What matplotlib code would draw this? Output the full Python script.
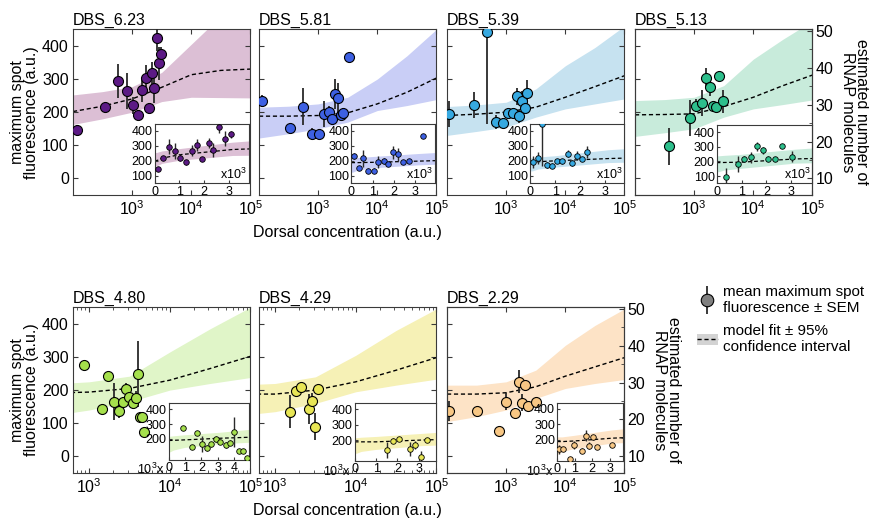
import numpy as np
import matplotlib
matplotlib.use("Agg")
import matplotlib.pyplot as plt
from matplotlib.lines import Line2D
from matplotlib.patches import Patch
from matplotlib.ticker import AutoMinorLocator

plt.rcParams['font.family'] = ['Liberation Sans', 'DejaVu Sans']
plt.rcParams['mathtext.fontset'] = 'custom'
plt.rcParams['mathtext.rm'] = 'Liberation Sans'
plt.rcParams['mathtext.it'] = 'Liberation Sans:italic'
plt.rcParams['mathtext.bf'] = 'Liberation Sans:bold'

# ---- data ----
names = ['DBS_6.23', 'DBS_5.81', 'DBS_5.39', 'DBS_5.13', 'DBS_4.80', 'DBS_4.29', 'DBS_2.29']
dot_colors = ['#5c1a85', '#3d60e3', '#36a9e1', '#2dbf8c', '#a5e04c', '#e8e655', '#f8c784']
band_colors = ['#dcbfd5', '#c9cef6', '#c6e2f0', '#c8ebdb', '#e0f5c8', '#f6f1b6', '#fde3c6']

x_623 = [117, 347, 575, 805, 1040, 1260, 1490, 1710, 1920, 2180, 2360, 2610, 2860, 3090]
y_623 = [147, 217, 294, 264, 221, 190, 267, 303, 212, 317, 272, 424, 347, 375]
e_623 = [12, 12, 50, 55, 25, 15, 35, 40, 15, 35, 45, 40, 50, 22]

x_581 = [113, 340, 565, 780, 1040, 1260, 1510, 1720, 1960, 2200, 2410, 2680, 3340]
y_581 = [233, 152, 217, 135, 135, 195, 200, 180, 255, 242, 193, 199, 365]
e_581 = [18, 8, 55, 18, 15, 40, 20, 15, 45, 45, 15, 15, 0]

x_539 = [108, 287, 479, 683, 876, 1054, 1284, 1503, 1670, 1880, 2090, 2290]
y_539 = [195, 221, 441, 170, 168, 198, 197, 248, 188, 233, 212, 258]
e_539 = [40, 40, 276, 20, 15, 15, 15, 25, 20, 30, 15, 40]

x_513 = [373, 858, 1094, 1360, 1606, 1849, 2074, 2356, 2610, 3043]
y_513 = [97, 183, 220, 227, 303, 275, 219, 215, 308, 233]
e_513 = [55, 55, 20, 40, 30, 25, 15, 15, 8, 35]

x_480 = [866, 1440, 1728, 2054, 2327, 2610, 2873, 3162, 3483, 3758, 3981, 4300, 4550, 4780]
y_480 = [275, 143, 243, 165, 137, 163, 202, 180, 162, 176, 248, 120, 118, 75]
e_480 = [0, 0, 0, 55, 20, 15, 20, 15, 20, 20, 100, 5, 5, 0]

x_429 = [1525, 1795, 2073, 2610, 2847, 3130, 3415]
y_429 = [135, 196, 208, 142, 167, 90, 202]
e_429 = [50, 15, 0, 45, 25, 40, 5]

x_229 = [109, 327, 764, 986, 1413, 1629, 1831, 2080, 2307, 3140]
y_229 = [138, 138, 77, 165, 130, 225, 162, 215, 153, 164]
e_229 = [30, 0, 0, 25, 15, 35, 25, 15, 0, 0]

# model fit (dashed) and 95% band, read at half-decade steps
fit_x = [100, 316, 1000, 3162, 10000, 31623, 100000]
mid_623 = [202, 218, 240, 275, 313, 326, 330]
lo_623 = [163, 180, 200, 232, 245, 244, 243]
hi_623 = [252, 262, 277, 320, 405, 490, 540]
mid_581 = [188, 188, 190, 198, 225, 260, 303]
lo_581 = [122, 135, 150, 170, 205, 220, 238]
hi_581 = [215, 218, 225, 245, 300, 370, 450]
mid_539 = [190, 194, 200, 215, 245, 277, 310]
lo_539 = [130, 142, 155, 185, 210, 225, 240]
hi_539 = [217, 222, 230, 270, 340, 395, 460]
mid_513 = [192, 193, 195, 217, 245, 280, 312]
lo_513 = [127, 138, 150, 185, 210, 223, 237]
hi_513 = [235, 238, 245, 280, 360, 420, 475]
mid_480 = [190, 191, 194, 205, 230, 265, 302]
lo_480 = [110, 122, 140, 165, 200, 220, 238]
hi_480 = [215, 218, 225, 242, 315, 385, 450]
mid_429 = [188, 188, 188, 200, 225, 260, 298]
lo_429 = [110, 122, 135, 160, 195, 215, 233]
hi_429 = [212, 215, 220, 240, 305, 380, 445]
mid_229 = [188, 188, 192, 210, 242, 270, 298]
lo_229 = [105, 120, 140, 175, 205, 220, 232]
hi_229 = [215, 215, 225, 260, 335, 395, 445]

points = [(x_623, y_623, e_623), (x_581, y_581, e_581), (x_539, y_539, e_539),
          (x_513, y_513, e_513), (x_480, y_480, e_480), (x_429, y_429, e_429),
          (x_229, y_229, e_229)]
fits = [(mid_623, lo_623, hi_623), (mid_581, lo_581, hi_581), (mid_539, lo_539, hi_539),
        (mid_513, lo_513, hi_513), (mid_480, lo_480, hi_480), (mid_429, lo_429, hi_429),
        (mid_229, lo_229, hi_229)]

# layout
fig = plt.figure(figsize=(8.7, 5.23), dpi=100)
lefts = [0.0839, 0.2977, 0.5138, 0.7299]
bottoms = [0.627, 0.0956]
W, H = 0.2040, 0.317
xlims = [(100, 1e5)] * 4 + [(631, 1e5), (631, 1e5), (100, 1e5)]
inset_pos = [[0.46, 0.07, 0.53, 0.36], [0.52, 0.07, 0.47, 0.36],
             [0.47, 0.07, 0.53, 0.36], [0.46, 0.07, 0.54, 0.35],
             [0.54, 0.08, 0.45, 0.34], [0.54, 0.07, 0.455, 0.35],
             [0.62, 0.07, 0.37, 0.355]]
inset_xmax = [3.8, 3.9, 3.8, 3.85, 4.9, 3.8, 3.75]
spine_c = '#3a3a3a'
FS = 11.5

for i, name in enumerate(names):
    row, col = (0, i) if i < 4 else (1, i - 4)
    ax = fig.add_axes([lefts[col], bottoms[row], W, H])
    px, py, pe = points[i]
    mid, lo, hi = fits[i]

    ax.fill_between(fit_x, lo, hi, color=band_colors[i], lw=0, zorder=1)
    ax.plot(fit_x, mid, color='black', lw=1.0, ls=(0, (3, 2)), zorder=2)
    ax.errorbar(px, py, yerr=pe, fmt='o', ms=7.2, mfc=dot_colors[i], mec='black',
                mew=0.8, ecolor='#2a2a2a', elinewidth=1.3, capsize=0, zorder=3)
    ax.set_xscale('log')
    ax.set_xlim(*xlims[i])
    ax.set_ylim(-50, 450)
    ax.set_xticks([1e3, 1e4, 1e5])
    ax.set_yticks([0, 100, 200, 300, 400])
    last = col == 3 or i == 6
    ax.tick_params(direction='in', which='both', top=True, right=not last,
                   labelsize=FS, color=spine_c, pad=3)
    ax.tick_params(which='major', length=3.5)
    ax.tick_params(which='minor', length=2)
    for s in ax.spines.values():
        s.set_color(spine_c)
    ax.set_title(name, loc='left', fontsize=FS, pad=3)
    if col == 0:
        ax.set_ylabel('maximum spot\nfluorescence (a.u.)', fontsize=FS,
                      linespacing=0.95, labelpad=2)
    else:
        ax.set_yticklabels([])
    if col == 1:
        ax.set_xlabel('Dorsal concentration (a.u.)', fontsize=FS, labelpad=5)
    if last:
        ax2 = ax.twinx()
        ax2.set_ylim(5.5, 50.4)
        ax2.set_yticks([10, 20, 30, 40, 50])
        ax2.yaxis.set_minor_locator(AutoMinorLocator(2))
        ax2.tick_params(direction='in', which='both', labelsize=FS, color=spine_c, pad=2)
        ax2.tick_params(which='major', length=3.5)
        ax2.tick_params(which='minor', length=2)
        for s in ax2.spines.values():
            s.set_color(spine_c)
        ax2.set_ylabel('estimated number of\nRNAP molecules', fontsize=FS,
                       rotation=270, linespacing=0.95, labelpad=26)

    # inset in linear scale
    ins = ax.inset_axes(inset_pos[i])
    fx = np.concatenate(([0], np.array(fit_x) / 1000))
    ins.fill_between(fx, np.concatenate(([lo[0]], lo)), np.concatenate(([hi[0]], hi)),
                     color=band_colors[i], lw=0, zorder=1)
    ins.plot(fx, np.concatenate(([mid[0]], mid)), color='black', lw=0.9,
             ls=(0, (3, 2)), zorder=2)
    ins.errorbar(np.array(px) / 1000, py, yerr=pe, fmt='o', ms=4, mfc=dot_colors[i],
                 mec='black', mew=0.6, ecolor='#2a2a2a', elinewidth=1.0, capsize=0, zorder=3)
    ins.set_xlim(0, inset_xmax[i])
    ins.set_xticks([0, 1, 2, 3] if inset_xmax[i] < 4 else [0, 1, 2, 3, 4])
    if row == 0:
        ins.set_ylim(50, 445)
        ins.set_yticks([100, 200, 300, 400])
        ins.text(0.98, 0.03, r'x10$^3$', transform=ins.transAxes, ha='right',
                 va='bottom', fontsize=9)
    else:
        ins.set_ylim(60, 440)
        ins.set_yticks([200, 300, 400])
        ins.text(-0.06, -0.04, r'10$^3$x', transform=ins.transAxes, ha='right',
                 va='top', fontsize=9)
    ins.tick_params(direction='in', labelsize=9, length=2, pad=1.5, color=spine_c)
    for s in ins.spines.values():
        s.set_color(spine_c)

# legend
h_pts = (Line2D([], [], marker='|', ms=20, mew=1.3, color='#2a2a2a', ls=''),
         Line2D([], [], marker='o', ms=9, mfc='#808080', mec='black', mew=0.8, ls=''))
h_fit = (Patch(facecolor='#d3d3d3', edgecolor='none'),
         Line2D([], [], color='black', lw=1.0, ls=(0, (3, 2))))
fig.legend([h_pts, h_fit],
           ['mean maximum spot\nfluorescence \u00b1 SEM', 'model fit \u00b1 95%\nconfidence interval'],
           loc='upper left', bbox_to_anchor=(0.792, 0.47), frameon=False, fontsize=11,
           handlelength=1.4, handletextpad=0.35, labelspacing=0.6, borderpad=0)

fig.savefig('out.png', dpi=100)
